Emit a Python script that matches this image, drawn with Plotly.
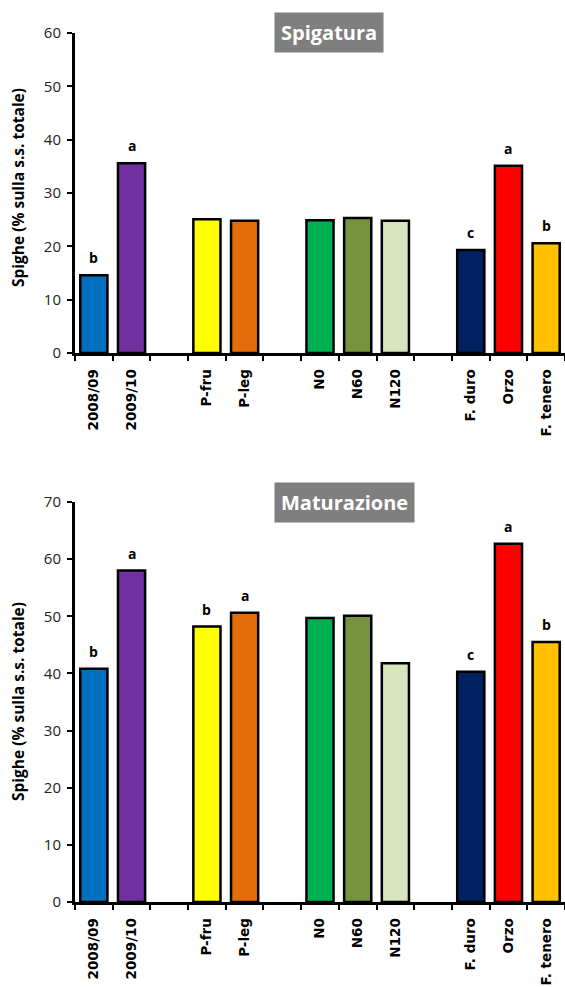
import plotly.graph_objects as go

# ---- data ----
groups = [
    ["2008/09", "2009/10"],
    ["P-fru", "P-leg"],
    ["N0", "N60", "N120"],
    ["F. duro", "Orzo", "F. tenero"],
]
colors_by_cat = {
    "2008/09": "#0070C0", "2009/10": "#7030A0",
    "P-fru": "#FFFF00", "P-leg": "#E46C0A",
    "N0": "#00B050", "N60": "#77933C", "N120": "#D7E4BD",
    "F. duro": "#002060", "Orzo": "#FF0000", "F. tenero": "#FFC000",
}
spig_values = {
    "2008/09": 14.6, "2009/10": 35.6, "P-fru": 25.1, "P-leg": 24.8,
    "N0": 24.9, "N60": 25.3, "N120": 24.8,
    "F. duro": 19.3, "Orzo": 35.1, "F. tenero": 20.6,
}
spig_letters = {"2008/09": "b", "2009/10": "a", "F. duro": "c", "Orzo": "a", "F. tenero": "b"}
mat_values = {
    "2008/09": 40.8, "2009/10": 58.0, "P-fru": 48.2, "P-leg": 50.6,
    "N0": 49.7, "N60": 50.1, "N120": 41.8,
    "F. duro": 40.3, "Orzo": 62.7, "F. tenero": 45.5,
}
mat_letters = {"2008/09": "b", "2009/10": "a", "P-fru": "b", "P-leg": "a",
               "F. duro": "c", "Orzo": "a", "F. tenero": "b"}
y_title = "Spighe (% sulla s.s. totale)"

# ---- category list with spacer slots between groups ----
cats = []
for gi, g in enumerate(groups):
    if gi > 0:
        cats.append(" " * gi)
    cats.extend(g)

W, H = 565, 987
def px_x(p):
    return p / W
def px_y(p):
    return 1 - p / H

fig = go.Figure()

def add_panel(values, letters, xa, ya):
    ys = [values.get(c) for c in cats]
    cols = [colors_by_cat.get(c, "white") for c in cats]
    fig.add_trace(go.Bar(
        x=cats, y=ys, xaxis=xa, yaxis=ya,
        marker=dict(color=cols, line=dict(color="black", width=2.5)),
        showlegend=False, hoverinfo="x+y",
    ))
    for c, t in letters.items():
        fig.add_annotation(
            x=c, y=values[c], xref=xa, yref=ya, text="<b>%s</b>" % t,
            showarrow=False, yanchor="bottom", yshift=6,
            font=dict(family="Open Sans", size=14, color="black"),
        )

add_panel(spig_values, spig_letters, "x", "y")
add_panel(mat_values, mat_letters, "x2", "y2")

xcommon = dict(
    type="category", categoryorder="array", categoryarray=cats,
    range=[-0.5, len(cats) - 0.5], tickson="boundaries",
    ticks="outside", ticklen=5, tickwidth=2, tickcolor="black",
    showline=True, linecolor="black", linewidth=2.5,
    tickangle=-90, automargin=False, showgrid=False, zeroline=False,
    tickfont=dict(family="DejaVu Sans", size=13.5, color="black", weight="bold"),
    ticklabelstandoff=8, fixedrange=True,
)
ycommon = dict(
    ticks="outside", ticklen=5, tickwidth=2, tickcolor="black",
    showline=True, linecolor="black", linewidth=3, dtick=10,
    showgrid=False, zeroline=False, automargin=False,
    tickfont=dict(family="Open Sans", size=15, color="#222"),
    ticklabelstandoff=3, fixedrange=True,
)

x_dom = [px_x(75), 1.0]
fig.update_layout(
    width=W, height=H,
    margin=dict(l=0, r=0, t=0, b=0),
    paper_bgcolor="white", plot_bgcolor="white",
    bargap=0.28,
    xaxis=dict(domain=x_dom, anchor="y", **xcommon),
    yaxis=dict(domain=[px_y(353), px_y(33)], anchor="x", range=[0, 60], **ycommon),
    xaxis2=dict(domain=x_dom, anchor="y2", **xcommon),
    yaxis2=dict(domain=[px_y(902), px_y(502)], anchor="x2", range=[0, 70], **ycommon),
)

# panel titles (gray boxes)
for txt, ytop in [("Spigatura", 12), ("Maturazione", 482)]:
    fig.add_annotation(
        x=px_x(274), y=px_y(ytop), xref="paper", yref="paper",
        xanchor="left", yanchor="top", showarrow=False,
        text="<b>%s</b>" % txt, bgcolor="#7F7F7F", borderpad=6,
        font=dict(family="Open Sans", size=20, color="white"),
    )

# y-axis titles
for yc in [188, 702]:
    fig.add_annotation(
        x=px_x(18), y=px_y(yc), xref="paper", yref="paper",
        xanchor="center", yanchor="middle", showarrow=False, textangle=-90,
        text="<b>%s</b>" % y_title,
        font=dict(family="Open Sans", size=15.5, color="black"),
    )

fig.write_html(
    "out.html",
    config={"displayModeBar": False},
    post_script="document.body.style.margin='0';document.body.style.overflow='hidden';",
)
